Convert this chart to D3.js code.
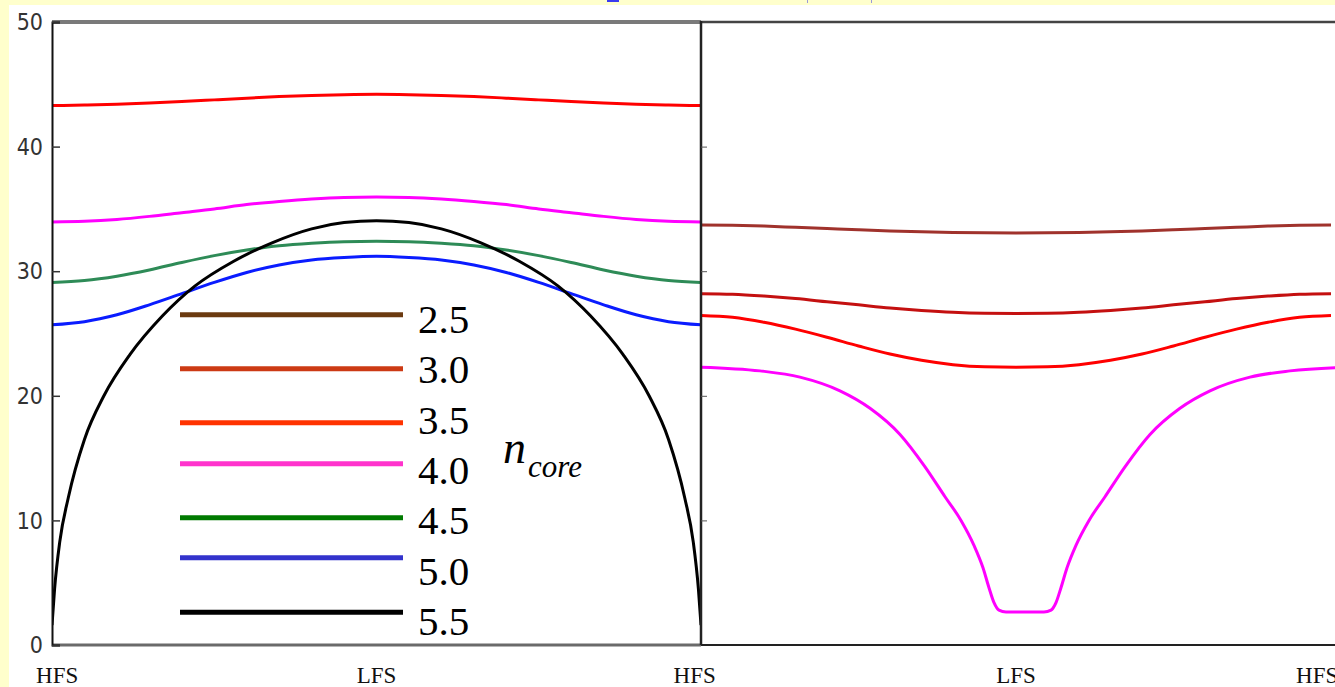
<!DOCTYPE html>
<html>
<head>
<meta charset="utf-8">
<script src="https://cdn.jsdelivr.net/npm/d3@7"></script>
<style>
  html, body { margin: 0; padding: 0; background: #ffffcc; }
  svg { display: block; }
</style>
</head>
<body>
<svg id="chart" width="1335" height="687"></svg>
<script>
// ---- data -------------------------------------------------------------
// Poloidal position across each panel: 0 = HFS, 0.5 = LFS, 1 = HFS
const tGrid = [0, 0.05, 0.1, 0.15, 0.2, 0.25, 0.3, 0.35, 0.4, 0.45, 0.5,
               0.55, 0.6, 0.65, 0.7, 0.75, 0.8, 0.85, 0.9, 0.95, 1];

// Left panel profiles
const leftRed     = [43.3, 43.33, 43.39, 43.49, 43.61, 43.75, 43.89, 44.02, 44.11, 44.17, 44.2,
                     44.17, 44.11, 44.02, 43.89, 43.75, 43.61, 43.49, 43.39, 43.33, 43.3];
const leftMagenta = [33.95, 34.0, 34.15, 34.4, 34.7, 35.0, 35.35, 35.6, 35.8, 35.92, 35.95,
                     35.92, 35.8, 35.6, 35.35, 35.0, 34.7, 34.4, 34.15, 34.0, 33.95];
const leftGreen   = [29.1, 29.25, 29.6, 30.1, 30.7, 31.25, 31.7, 32.05, 32.25, 32.37, 32.4,
                     32.37, 32.25, 32.05, 31.7, 31.25, 30.7, 30.1, 29.6, 29.25, 29.1];
const leftBlue    = [25.7, 25.95, 26.5, 27.3, 28.2, 29.1, 29.9, 30.5, 30.9, 31.1, 31.2,
                     31.1, 30.9, 30.5, 29.9, 29.1, 28.2, 27.3, 26.5, 25.95, 25.7];

// Black boundary curve, sampled more densely near the edges
const blackT   = [0, 0.004, 0.012, 0.025, 0.05, 0.08, 0.12, 0.17, 0.22, 0.28, 0.34, 0.4, 0.45, 0.5,
                  0.55, 0.6, 0.66, 0.72, 0.78, 0.83, 0.88, 0.92, 0.95, 0.975, 0.988, 0.996, 1];
const blackVal = [1.6, 4.5, 8.3, 11.8, 16.5, 20.0, 23.3, 26.4, 28.8, 30.8, 32.3, 33.4, 33.9, 34.05,
                  33.9, 33.4, 32.3, 30.8, 28.8, 26.4, 23.3, 20.0, 16.5, 11.8, 8.3, 4.5, 1.6];

// Right panel profiles
const rightBrown   = [33.7, 33.68, 33.62, 33.52, 33.42, 33.32, 33.23, 33.16, 33.11, 33.08, 33.07,
                      33.08, 33.11, 33.16, 33.23, 33.32, 33.42, 33.52, 33.62, 33.68, 33.7];
const rightDarkRed = [28.2, 28.15, 28.0, 27.8, 27.55, 27.3, 27.05, 26.85, 26.7, 26.62, 26.6,
                      26.62, 26.7, 26.85, 27.05, 27.3, 27.55, 27.8, 28.0, 28.15, 28.2];
const rightRed     = [26.45, 26.3, 25.9, 25.35, 24.7, 24.0, 23.35, 22.85, 22.5, 22.33, 22.3,
                      22.33, 22.5, 22.85, 23.35, 24.0, 24.7, 25.35, 25.9, 26.3, 26.45];
// Deep, flat-bottomed well of the magenta profile
const magentaT   = [0, 0.0937, 0.157, 0.2206, 0.2683, 0.3159, 0.3556, 0.3873, 0.4127, 0.4333,
                    0.4476, 0.4571, 0.4651, 0.473, 0.4841, 0.5444, 0.5556, 0.5635, 0.5714, 0.581,
                    0.5952, 0.6159, 0.6413, 0.673, 0.7127, 0.7603, 0.8079, 0.8714, 0.9349, 1.0286];
const magentaVal = [22.3, 22.0, 21.5, 20.4, 19.0, 16.9, 14.3, 11.9, 10.0, 8.0,
                    6.2, 4.6, 3.4, 2.8, 2.65, 2.65, 2.8, 3.4, 4.6, 6.2,
                    8.0, 10.0, 11.9, 14.3, 16.9, 19.0, 20.4, 21.5, 22.0, 22.3];

// Legend entries (n_core values) and their colours
const legendLabels = ["2.5", "3.0", "3.5", "4.0", "4.5", "5.0", "5.5"];
const legendColors = ["#6b3a10", "#cc3a14", "#ff3300", "#ff33cc", "#007a00", "#3333cc", "#000000"];
const legendLineY  = [314.7, 368.7, 422.7, 463.7, 517.7, 557.7, 612.3];

// Axis ticks
const yTicks = [0, 10, 20, 30, 40, 50];
const xLabelsLeft  = [{ t: 0.008, label: "HFS" }, { t: 0.5, label: "LFS" }];
const xLabelsRight = [{ t: -0.01, label: "HFS" }, { t: 0.5, label: "LFS" }, { t: 0.978, label: "HFS" }];

// ---- layout -----------------------------------------------------------
const svg = d3.select("#chart");
const W = 1335, H = 687;
const plotTop = 22, plotBottom = 645;
const leftX0 = 52, divX = 701, rightX1 = 1331;

const y = d3.scaleLinear().domain([0, 50]).range([plotBottom, plotTop]);
const xL = d3.scaleLinear().domain([0, 1]).range([leftX0, divX]);
const xR = d3.scaleLinear().domain([0, 1]).range([divX, rightX1]);

// white page area over the pale yellow slide background
svg.append("rect").attr("x", 9).attr("y", 5).attr("width", W - 9).attr("height", H - 5)
   .attr("fill", "#ffffff");
// slide header remnants peeking in along the top edge
svg.append("rect").attr("x", 607).attr("y", 0).attr("width", 12).attr("height", 2).attr("fill", "#3b3bf0");
svg.append("rect").attr("x", 807).attr("y", 0).attr("width", 1).attr("height", 3).attr("fill", "#9a9ad8");
svg.append("rect").attr("x", 871).attr("y", 0).attr("width", 1).attr("height", 3).attr("fill", "#9a9ad8");

// ---- curves -----------------------------------------------------------
const lineFor = (xs) => d3.line()
  .x(d => xs(d[0])).y(d => y(d[1]))
  .curve(d3.curveMonotoneX);

function drawCurve(xs, ts, vals, color, clipId) {
  svg.append("path")
    .datum(ts.map((t, i) => [t, vals[i]]))
    .attr("d", lineFor(xs))
    .attr("fill", "none")
    .attr("stroke", color)
    .attr("stroke-width", 3)
    .attr("stroke-linejoin", "round")
    .attr("clip-path", `url(#${clipId})`);
}

const defs = svg.append("defs");
defs.append("clipPath").attr("id", "clipL").append("rect")
  .attr("x", leftX0).attr("y", plotTop).attr("width", divX - leftX0).attr("height", plotBottom - plotTop);
defs.append("clipPath").attr("id", "clipR").append("rect")
  .attr("x", divX).attr("y", plotTop).attr("width", W - divX).attr("height", plotBottom - plotTop);

drawCurve(xL, tGrid, leftRed, "#ff0000", "clipL");
drawCurve(xL, tGrid, leftMagenta, "#ff00ff", "clipL");
drawCurve(xL, tGrid, leftGreen, "#2e8b57", "clipL");
drawCurve(xL, tGrid, leftBlue, "#0a1cff", "clipL");
drawCurve(xL, blackT, blackVal, "#000000", "clipL");

drawCurve(xR, tGrid, rightBrown, "#a0322c", "clipR");
drawCurve(xR, tGrid, rightDarkRed, "#c41010", "clipR");
drawCurve(xR, tGrid, rightRed, "#ff0000", "clipR");
drawCurve(xR, magentaT, magentaVal, "#ff00ff", "clipR");

// ---- frame and axes ---------------------------------------------------
// top edge
svg.append("line").attr("x1", leftX0).attr("x2", divX).attr("y1", plotTop).attr("y2", plotTop)
   .attr("stroke", "#7a7a7a").attr("stroke-width", 4);
svg.append("line").attr("x1", divX).attr("x2", W).attr("y1", plotTop).attr("y2", plotTop)
   .attr("stroke", "#444").attr("stroke-width", 2.5);
// bottom edge
svg.append("line").attr("x1", leftX0).attr("x2", divX).attr("y1", plotBottom).attr("y2", plotBottom)
   .attr("stroke", "#6a6a6a").attr("stroke-width", 3);
svg.append("line").attr("x1", divX).attr("x2", W).attr("y1", plotBottom).attr("y2", plotBottom)
   .attr("stroke", "#222").attr("stroke-width", 2);
// panel divider
svg.append("line").attr("x1", divX).attr("x2", divX).attr("y1", plotTop - 1).attr("y2", plotBottom)
   .attr("stroke", "#222").attr("stroke-width", 2.5);

// left y axis with inward ticks
const yAxis = d3.axisRight(y).tickValues(yTicks).tickSize(8).tickFormat("");
const gy = svg.append("g").attr("transform", `translate(${leftX0},0)`).call(yAxis);
gy.select(".domain").attr("stroke", "#111").attr("stroke-width", 2);
gy.selectAll(".tick line").attr("stroke", "#333").attr("stroke-width", 1.5);

svg.append("g").selectAll("text").data(yTicks).join("text")
  .attr("x", 43).attr("y", d => y(d)).attr("dy", "0.36em")
  .attr("text-anchor", "end")
  .attr("font-family", "'Liberation Sans Narrow', 'DejaVu Sans Condensed', sans-serif")
  .attr("font-stretch", "condensed")
  .attr("font-size", 23).attr("fill", "#333")
  .text(d => d);

// small inward ticks on the right panel's left edge
const yAxisR = d3.axisRight(y).tickValues(yTicks.filter(d => d > 0 && d < 50)).tickSize(6).tickFormat("");
const gyR = svg.append("g").attr("transform", `translate(${divX},0)`).call(yAxisR);
gyR.select(".domain").remove();
gyR.selectAll(".tick line").attr("stroke", "#555").attr("stroke-width", 1);

// HFS / LFS labels under the panels
function xLabels(xs, items) {
  svg.append("g").selectAll("text").data(items).join("text")
    .attr("x", d => xs(d.t)).attr("y", 683)
    .attr("text-anchor", "middle")
    .attr("font-family", "'Liberation Serif', 'Times New Roman', serif")
    .attr("font-size", 23).attr("fill", "#111")
    .text(d => d.label);
}
xLabels(xL, xLabelsLeft);
xLabels(xR, xLabelsRight);

// ---- legend -----------------------------------------------------------
const lg = svg.append("g");
lg.selectAll("line").data(legendLabels).join("line")
  .attr("x1", 180).attr("x2", 403)
  .attr("y1", (d, i) => legendLineY[i]).attr("y2", (d, i) => legendLineY[i])
  .attr("stroke", (d, i) => legendColors[i]).attr("stroke-width", 5);
lg.selectAll("text").data(legendLabels).join("text")
  .attr("x", 418).attr("y", (d, i) => 333 + 50.3 * i)
  .attr("font-family", "'Liberation Serif', 'Times New Roman', serif")
  .attr("font-size", 41).attr("fill", "#000")
  .text(d => d);

const nLabel = lg.append("text")
  .attr("x", 503).attr("y", 463)
  .attr("font-family", "'Liberation Serif', 'Times New Roman', serif")
  .attr("font-style", "italic").attr("fill", "#000");
nLabel.append("tspan").attr("font-size", 46).text("n");
nLabel.append("tspan").attr("font-size", 31).attr("dy", 14).attr("dx", 2).text("core");
</script>
</body>
</html>
